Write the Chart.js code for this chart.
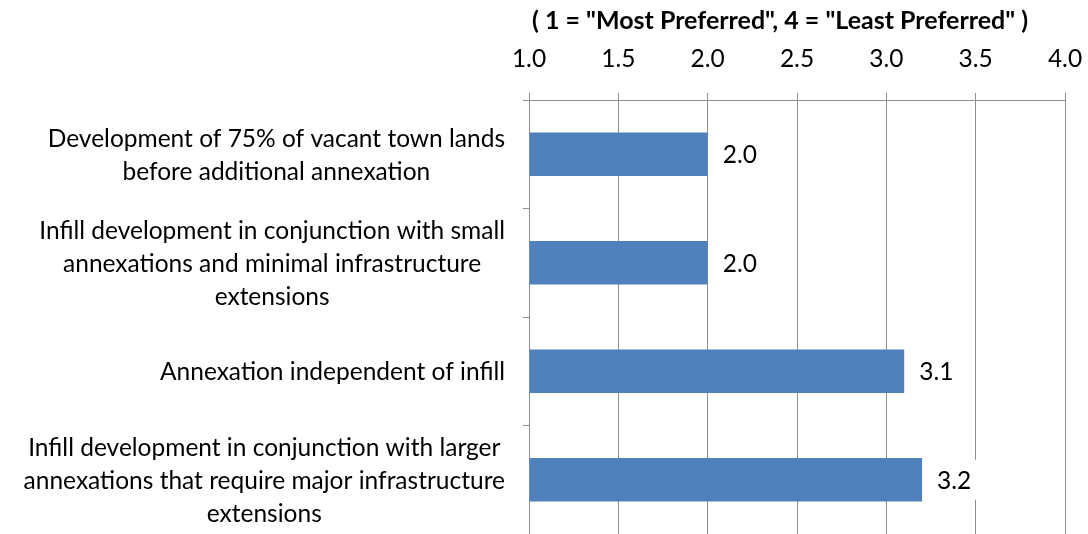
<!DOCTYPE html>
<html>
<head>
<meta charset="utf-8">
<script src="https://cdn.jsdelivr.net/npm/chart.js@4.4.0/dist/chart.umd.min.js"></script>
<style>
  html, body { margin: 0; padding: 0; background: #fff; }
  #wrap { width: 1088px; height: 534px; }
</style>
</head>
<body>
<div id="wrap"><canvas id="chart"></canvas></div>
<script>
// Варианты развития и их средний ранг
const categories = [
  ['Development of 75% of vacant town lands', 'before additional annexation'],
  ['Infill development in conjunction with small', 'annexations and minimal infrastructure', 'extensions'],
  ['Annexation independent of infill'],
  ['Infill development in conjunction with larger', 'annexations that require major infrastructure', 'extensions']
];
const scores = [2.0, 2.0, 3.1, 3.2];
const tickValues = [1.0, 1.5, 2.0, 2.5, 3.0, 3.5, 4.0];
const axisTitle = '( 1 = "Most Preferred", 4 = "Least Preferred" )';

const FONT = 'Lato, "Noto Sans", sans-serif';
const labelSize = 24.5;
const lineGap = 33;
const gridColor = '#8e8e8e';

// Заголовок шкалы над подписями оси X
const scaleTitle = {
  id: 'scaleTitle',
  afterDraw(chart) {
    const { ctx, chartArea } = chart;
    ctx.save();
    ctx.font = `bold 25px ${FONT}`;
    ctx.fillStyle = '#000';
    ctx.textAlign = 'center';
    ctx.textBaseline = 'middle';
    ctx.fillText(axisTitle, chartArea.left + 251, 21);
    ctx.restore();
  }
};

// Подписи категорий слева: каждый блок по центру, блоки прижаты к оси
const categoryLabels = {
  id: 'categoryLabels',
  afterDraw(chart) {
    const { ctx, chartArea, scales: { y } } = chart;
    ctx.save();
    ctx.font = `${labelSize}px ${FONT}`;
    ctx.fillStyle = '#000';
    ctx.textAlign = 'center';
    ctx.textBaseline = 'middle';
    categories.forEach((lines, i) => {
      const w = Math.max(...lines.map(l => ctx.measureText(l).width));
      const cx = chartArea.left - 24 - w / 2;
      const cy = y.getPixelForValue(i) + 1;
      const top = cy - (lines.length - 1) * lineGap / 2;
      lines.forEach((l, k) => ctx.fillText(l, cx, top + k * lineGap));
    });
    ctx.restore();
  }
};

// Значения справа от столбцов
const valueLabels = {
  id: 'valueLabels',
  afterDatasetsDraw(chart) {
    const { ctx } = chart;
    const meta = chart.getDatasetMeta(0);
    ctx.save();
    ctx.font = `${labelSize}px ${FONT}`;
    ctx.textAlign = 'left';
    ctx.textBaseline = 'middle';
    meta.data.forEach((bar, i) => {
      const text = scores[i].toFixed(1);
      const w = ctx.measureText(text).width;
      const x = bar.x + 15;
      ctx.fillStyle = '#fff';
      ctx.fillRect(x - 5, bar.y - 20, w + 10, 40);
      ctx.fillStyle = '#000';
      ctx.fillText(text, x, bar.y + 1);
    });
    ctx.restore();
  }
};

new Chart(document.getElementById('chart'), {
  type: 'bar',
  data: {
    labels: categories.map(l => l.join(' ')),
    datasets: [{
      data: scores,
      base: tickValues[0],
      backgroundColor: '#4f81bd',
      barPercentage: 0.4,
      categoryPercentage: 1
    }]
  },
  options: {
    indexAxis: 'y',
    responsive: true,
    maintainAspectRatio: false,
    animation: false,
    layout: { padding: { top: 0, right: 23, bottom: -2, left: 0 } },
    plugins: {
      legend: { display: false },
      tooltip: { enabled: false }
    },
    scales: {
      x: {
        position: 'top',
        min: tickValues[0],
        max: tickValues[tickValues.length - 1],
        afterBuildTicks: s => { s.ticks = tickValues.map(v => ({ value: v })); },
        afterFit: s => { s.height = 100; s.paddingRight = 0; s.paddingLeft = 0; },
        ticks: {
          callback: v => Number(v).toFixed(1),
          color: '#000',
          font: { family: FONT, size: labelSize },
          padding: 19
        },
        grid: { color: gridColor, lineWidth: 1, tickLength: 7 },
        border: { color: gridColor }
      },
      y: {
        afterFit: s => { s.width = 529; },
        ticks: { display: false },
        grid: { drawOnChartArea: false, drawTicks: true, tickLength: 6, color: gridColor },
        border: { color: gridColor }
      }
    }
  },
  plugins: [scaleTitle, categoryLabels, valueLabels]
});
</script>
</body>
</html>
